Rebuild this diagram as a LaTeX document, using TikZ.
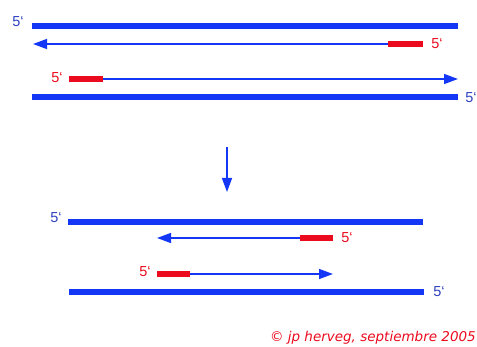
\documentclass[tikz,border=0pt]{standalone}
\usepackage{fontspec}
\setmainfont{Liberation Sans}
\newfontfamily\copyfont{DejaVu Sans}
\usetikzlibrary{arrows.meta}
\definecolor{strandblue}{RGB}{20,55,245}
\definecolor{labelblue}{RGB}{45,65,190}
\definecolor{primerred}{RGB}{235,10,30}

\begin{document}
\begin{tikzpicture}[x=1pt,y=-1pt]
\tikzset{strand/.style = {strandblue, line width=6pt}}
\tikzset{newdna/.style = {strandblue, line width=1.4pt, -{Triangle[length=14pt,width=10pt]}}}
\tikzset{primer/.style = {primerred, line width=5.5pt}}
\tikzset{bluelab/.style = {labelblue, font=\fontsize{14.5}{14.5}\selectfont, inner sep=1pt}}
\tikzset{redlab/.style = {primerred, font=\fontsize{14.5}{14.5}\selectfont, inner sep=1pt}}
\useasboundingbox (0,0) rectangle (477,347);

% before: template strands with primers
\coordinate (t1a) at (32,26);
\coordinate (t1b) at (458,26);
\coordinate (p1a) at (423,44);
\coordinate (p1b) at (388,44);
\coordinate (e1) at (33,44);
\coordinate (p2a) at (69,79);
\coordinate (p2b) at (103,79);
\coordinate (e2) at (458,79);
\coordinate (t2a) at (32,97);
\coordinate (t2b) at (458,97);

\node[bluelab] (l1) at (18,22) {5‘};
\node[redlab] (l2) at (437,44) {5‘};
\node[redlab] (l3) at (57,78) {5‘};
\node[bluelab] (l4) at (471,98) {5‘};

\draw[strand] (t1a) -- (t1b);
\draw[newdna] (p1b) -- (e1);
\draw[primer] (p1a) -- (p1b);
\draw[newdna] (p2b) -- (e2);
\draw[primer] (p2a) -- (p2b);
\draw[strand] (t2a) -- (t2b);

% step arrow
\coordinate (d1) at (227,147);
\coordinate (d2) at (227,192);
\draw[newdna] (d1) -- (d2);

% after: shorter strands
\coordinate (t3a) at (68,222);
\coordinate (t3b) at (423,222);
\coordinate (p3a) at (333,238);
\coordinate (p3b) at (300,238);
\coordinate (e3) at (157,238);
\coordinate (p4a) at (157,274);
\coordinate (p4b) at (190,274);
\coordinate (e4) at (333,274);
\coordinate (t4a) at (69,292);
\coordinate (t4b) at (424,292);

\node[bluelab] (l5) at (56,218) {5‘};
\node[redlab] (l6) at (347,238) {5‘};
\node[redlab] (l7) at (145,272) {5‘};
\node[bluelab] (l8) at (439,292) {5‘};

\draw[strand] (t3a) -- (t3b);
\draw[newdna] (p3b) -- (e3);
\draw[primer] (p3a) -- (p3b);
\draw[newdna] (p4b) -- (e4);
\draw[primer] (p4a) -- (p4b);
\draw[strand] (t4a) -- (t4b);

\node[primerred, anchor=base east, inner sep=0pt, font=\copyfont\itshape\fontsize{13.5}{13.5}\selectfont] (copy) at (476,342) {© jp herveg, septiembre 2005};
\end{tikzpicture}
\end{document}
